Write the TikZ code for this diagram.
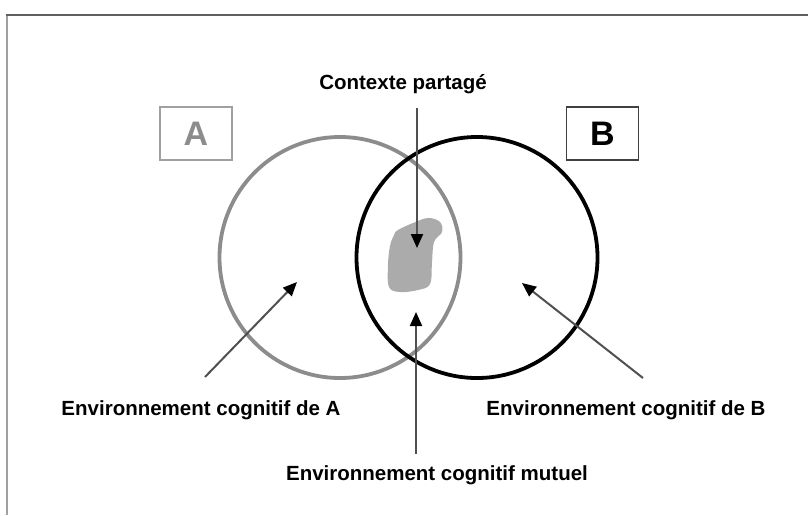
\documentclass[tikz,border=0pt]{standalone}
\usepackage{fontspec}
\setmainfont{Liberation Sans}
\usetikzlibrary{arrows.meta}
\definecolor{frametop}{HTML}{606060}
\definecolor{frameleft}{HTML}{A0A0A0}
\definecolor{circA}{HTML}{8C8C8C}
\definecolor{boxA}{HTML}{A0A0A0}
\definecolor{boxB}{HTML}{404040}
\definecolor{arrowline}{HTML}{505050}
\definecolor{blobgray}{HTML}{ABABAB}
\tikzset{
  lbl/.style={font=\fontsize{20.5}{24}\selectfont\bfseries, inner sep=0pt},
  envcircle/.style={circle, minimum size=241pt, inner sep=0pt, line width=3.8pt},
  letterbox/.style={rectangle, minimum width=72pt, minimum height=53pt, inner sep=0pt, line width=1.6pt, font=\fontsize{34}{36}\selectfont\bfseries},
  pointer/.style={draw=arrowline, line width=2pt, -{Triangle[length=14pt,width=12pt,color=black]}},
}
\begin{document}
\begin{tikzpicture}[x=1pt,y=1pt]
\useasboundingbox (0,0) rectangle (808,-515);
\fill[white] (0,0) rectangle (808,-515);
% frame
\draw[frameleft, line width=2pt] (7,-15) -- (7,-515);
\draw[frametop, line width=2.4pt] (6,-15) -- (808,-15);
% shared blob
\fill[blobgray] plot[smooth cycle, tension=0.6] coordinates {(398,-230) (413,-223) (428,-218) (440,-222) (442,-232) (434,-242) (432,-262) (430,-284) (418,-290) (400,-292) (389,-287) (388,-265) (390,-246) (394,-235)};
% circles
\node[envcircle, draw=circA] (cA) at (340,-257.5) {};
\node[envcircle, draw=black] (cB) at (477,-257.5) {};
% letter boxes
\node[letterbox, draw=boxA, text=circA] (bA) at (196,-133.5) {A};
\node[letterbox, draw=boxB, text=black] (bB) at (602.5,-133.5) {B};
% labels
\node[lbl] (ctx) at (403,-84) {Contexte partagé};
\node[lbl] (envA) at (201,-410) {Environnement cognitif de A};
\node[lbl] (envB) at (626,-410) {Environnement cognitif de B};
\node[lbl] (envM) at (437,-475) {Environnement cognitif mutuel};
% arrow end points
\coordinate (ctxS) at (417,-108);
\coordinate (ctxT) at (417,-248);
\coordinate (mutS) at (416,-454);
\coordinate (mutT) at (416,-312);
\coordinate (aS) at (205,-377);
\coordinate (aT) at (297,-282);
\coordinate (bS) at (643,-378);
\coordinate (bT) at (522,-283);
\draw[pointer] (ctxS) -- (ctxT);
\draw[pointer] (mutS) -- (mutT);
\draw[pointer] (aS) -- (aT);
\draw[pointer] (bS) -- (bT);
\end{tikzpicture}
\end{document}
